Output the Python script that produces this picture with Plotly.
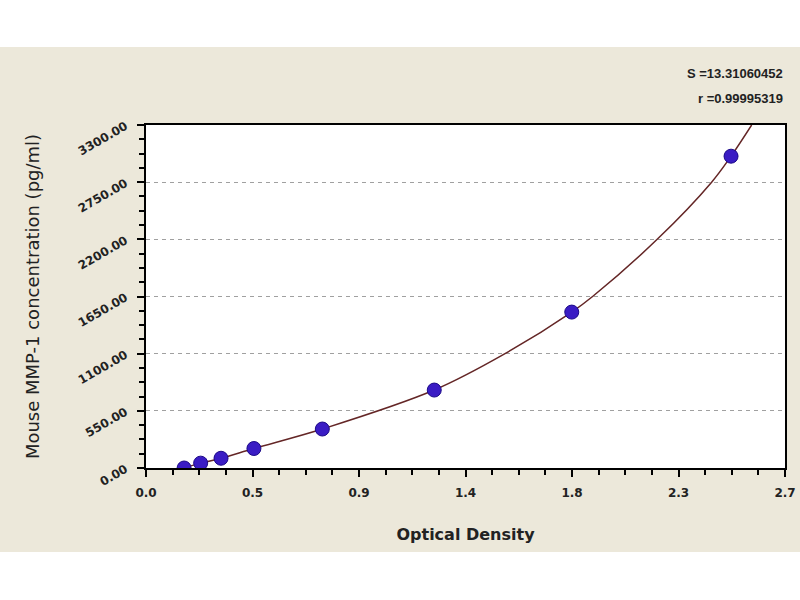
import plotly.graph_objects as go

# standard points (OD vs concentration)
od_std = [0.161, 0.231, 0.317, 0.456, 0.745, 1.218, 1.799, 2.472]
conc_std = [0.0, 46.88, 93.75, 187.5, 375.0, 750.0, 1500.0, 3000.0]

# fitted curve
od_fit = [0.161, 0.231, 0.317, 0.456, 0.745, 1.218, 1.517, 1.799, 1.887, 2.160, 2.390, 2.472, 2.559]
conc_fit = [0.0, 46.88, 93.75, 187.5, 375.0, 750.0, 1100.0, 1500.0, 1650.0, 2200.0, 2750.0, 3000.0, 3300.0]

x_ticks = [0.0, 0.45, 0.9, 1.35, 1.8, 2.25, 2.7]
x_labels = ["0.0", "0.5", "0.9", "1.4", "1.8", "2.3", "2.7"]
y_ticks = [0, 550, 1100, 1650, 2200, 2750, 3300]

fit_text = ["S =13.31060452", "r =0.99995319"]

BEIGE = "#ece8da"

fig = go.Figure()
fig.add_trace(go.Scatter(x=od_fit, y=conc_fit, mode="lines",
                         line=dict(color="#642626", width=1.5, shape="spline", smoothing=1.0),
                         hoverinfo="skip", showlegend=False))
fig.add_trace(go.Scatter(x=od_std, y=conc_std, mode="markers",
                         marker=dict(size=14, color="#3a1cc4",
                                     line=dict(color="#1c0a88", width=1)),
                         showlegend=False))

fig.update_xaxes(range=[0, 2.7], tickvals=x_ticks, ticktext=x_labels,
                 showgrid=False, zeroline=False, automargin=False,
                 showline=True, linecolor="black", linewidth=2, mirror=True,
                 ticks="outside", ticklen=7, tickwidth=2, tickcolor="black",
                 minor=dict(dtick=0.1125, ticks="outside", ticklen=5, tickwidth=2, tickcolor="black"),
                 ticklabelstandoff=6,
                 tickfont=dict(family="DejaVu Sans", size=12, color="#222", weight="bold"),
                 title=dict(text="<b>Optical Density</b>", standoff=29,
                            font=dict(family="DejaVu Sans", size=16, color="#222")))
fig.update_yaxes(range=[0, 3300], tickvals=y_ticks, tickformat=".2f",
                 tickangle=-30, showgrid=True, gridcolor="#a0a0a0", gridwidth=1,
                 griddash="4px,4px", zeroline=False, automargin=False,
                 showline=True, linecolor="black", linewidth=2, mirror=True,
                 ticks="outside", ticklen=7, tickwidth=2, tickcolor="black",
                 minor=dict(dtick=137.5, ticks="outside", ticklen=5, tickwidth=2, tickcolor="black",
                            showgrid=False),
                 ticklabelstandoff=9,
                 tickfont=dict(family="DejaVu Sans", size=12, color="#222", weight="bold"),
                 title=dict(text="Mouse MMP-1 concentration (pg/ml)", standoff=31,
                            font=dict(family="DejaVu Sans", size=18, color="#222")))

fig.add_annotation(xref="paper", yref="paper", x=1.0, y=1.0, yshift=52,
                   text="<b>" + fit_text[0] + "</b>", showarrow=False,
                   xanchor="right", yanchor="middle",
                   font=dict(family="Liberation Sans", size=13, color="#222"))
fig.add_annotation(xref="paper", yref="paper", x=1.0, y=1.0, yshift=27,
                   text="<b>" + fit_text[1] + "</b>", showarrow=False,
                   xanchor="right", yanchor="middle",
                   font=dict(family="Liberation Sans", size=13, color="#222"))

# white strips above and below the beige panel
fig.add_shape(type="rect", xref="paper", yref="paper", x0=-0.3, x1=1.1,
              y0=1.2274, y1=1.4, fillcolor="white", line_width=0, layer="above")
fig.add_shape(type="rect", xref="paper", yref="paper", x0=-0.3, x1=1.1,
              y0=-0.45, y1=-0.2449, fillcolor="white", line_width=0, layer="above")

fig.update_layout(width=800, height=600,
                  margin=dict(l=146, r=15, t=125, b=132),
                  paper_bgcolor=BEIGE, plot_bgcolor="white")

fig.write_html("out.html", config={"displayModeBar": False},
               post_script="document.body.style.margin='0';")
